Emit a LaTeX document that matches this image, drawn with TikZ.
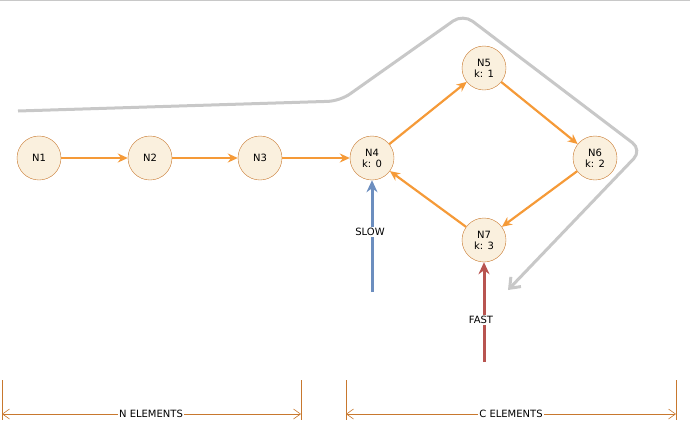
\documentclass[tikz,border=0pt]{standalone}
\usepackage{fontspec}
\setmainfont{DejaVu Sans}
\usetikzlibrary{arrows.meta}
\definecolor{nfill}{HTML}{FAF0DE}
\definecolor{nbord}{HTML}{C8782E}
\definecolor{orng}{HTML}{F59A38}
\definecolor{slowc}{HTML}{6C8EBF}
\definecolor{fastc}{HTML}{B85450}
\definecolor{grayc}{HTML}{C8C8C8}
\begin{document}
\begin{tikzpicture}[x=1pt,y=-1pt,
  elem/.style={circle,draw=nbord,fill=nfill,minimum size=44pt,inner sep=0pt,font=\fontsize{10}{11}\selectfont,align=center},
  link/.style={draw=orng,line width=2.2pt,-{Stealth[length=10pt,width=9pt]}},
  lbl/.style={fill=white,inner sep=1pt,font=\fontsize{10}{11}\selectfont},
  dim/.style={draw=nbord,line width=0.6pt}]
\useasboundingbox (0,0) rectangle (690,437);
\draw[grayc,line width=0.6pt] (0,0.5) -- (690,0.5);
\node[elem] (n1) at (39,158) {N1};
\node[elem] (n2) at (150,158) {N2};
\node[elem] (n3) at (260,158) {N3};
\node[elem] (n4) at (372,158) {N4\\k: 0};
\node[elem] (n5) at (484,68) {N5\\k: 1};
\node[elem] (n6) at (595,158) {N6\\k: 2};
\node[elem] (n7) at (484,240) {N7\\k: 3};
\draw[link] (n1) -- (n2);
\draw[link] (n2) -- (n3);
\draw[link] (n3) -- (n4);
\draw[link] (n4) -- (n5);
\draw[link] (n5) -- (n6);
\draw[link] (n6) -- (n7);
\draw[link] (n7) -- (n4);
\coordinate (gs) at (18,111);
\coordinate (ge) at (508,290);
\draw[grayc,line width=3pt,rounded corners=12pt,-{Straight Barb[length=9pt,width=14pt]}] (gs) -- (340,101) -- (463,14) -- (642,150) -- (ge);
\coordinate (slow0) at (372,292);
\coordinate (fast0) at (484,362);
\draw[slowc,line width=3pt,-{Stealth[length=12pt,width=11pt]}] (slow0) -- (n4);
\node[lbl] (slow) at (370,232) {SLOW};
\draw[fastc,line width=3pt,-{Stealth[length=12pt,width=11pt]}] (fast0) -- (n7);
\node[lbl] (fast) at (481,320) {FAST};
\coordinate (a1) at (2,380); \coordinate (a2) at (2,420);
\coordinate (b1) at (301,380); \coordinate (b2) at (301,420);
\coordinate (c1) at (346,380); \coordinate (c2) at (346,420);
\coordinate (d1) at (676,380); \coordinate (d2) at (676,420);
\draw[dim] (a1) -- (a2); \draw[dim] (b1) -- (b2);
\draw[dim] (c1) -- (c2); \draw[dim] (d1) -- (d2);
\coordinate (al) at (2,414); \coordinate (bl) at (301,414);
\coordinate (cl) at (346,414); \coordinate (dl) at (676,414);
\draw[dim,{Straight Barb[length=7pt,width=10pt]}-{Straight Barb[length=7pt,width=10pt]}] (al) -- (bl);
\draw[dim,{Straight Barb[length=7pt,width=10pt]}-{Straight Barb[length=7pt,width=10pt]}] (cl) -- (dl);
\node[lbl] (nel) at (151,414) {N ELEMENTS};
\node[lbl] (cel) at (511,414) {C ELEMENTS};
\end{tikzpicture}
\end{document}
